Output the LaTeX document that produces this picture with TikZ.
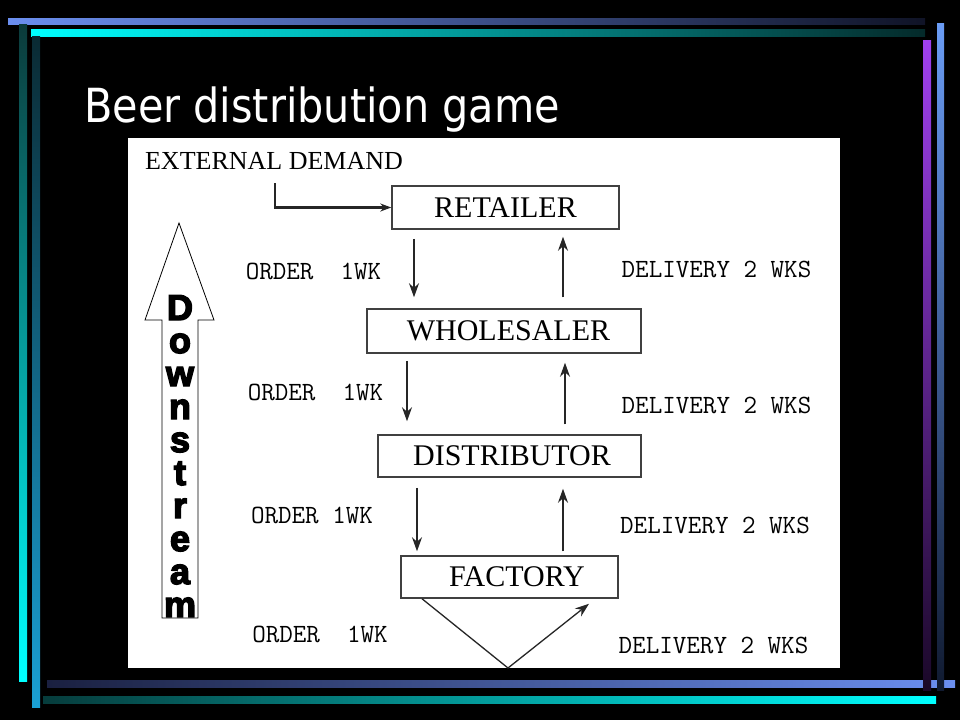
\documentclass[tikz,border=0pt]{standalone}
\usepackage{fontspec}
\setmainfont{Liberation Serif}
\newfontfamily\titlefont[FakeStretch=0.88]{DejaVu Sans}
\newfontfamily\monofont{Latin Modern Mono}
\newfontfamily\heavyfont[BoldFeatures={FakeBold=4}]{Liberation Sans}
\usetikzlibrary{arrows.meta,calc}
\definecolor{lblue}{HTML}{6B8FF0}
\definecolor{navyd}{HTML}{1A2040}
\definecolor{tealtop}{HTML}{0B3A3A}
\definecolor{tealdk}{HTML}{063C3C}
\definecolor{midblue}{HTML}{1AA0D4}
\definecolor{dkblue}{HTML}{0A2A33}
\definecolor{purp}{HTML}{A040F0}
\definecolor{purpdk}{HTML}{1A0828}
\definecolor{rblue}{HTML}{6A9CF5}
\definecolor{rbluedk}{HTML}{101A30}
\begin{document}
\begin{tikzpicture}[x=1pt,y=-1pt,
  boxnode/.style={draw=black!75, line width=1.5pt, inner sep=0pt, fill=white,
    font=\fontsize{30}{30}\selectfont},
  monolbl/.style={inner sep=0pt, font=\monofont\fontsize{26.3}{26.3}\selectfont},
  seriflbl/.style={inner sep=0pt, font=\fontsize{26}{26}\selectfont},
  flowarr/.style={line width=1.3pt, black!85, -{Stealth[length=14pt,width=10pt]}},
  elbowarr/.style={line width=2.4pt, black!85, -{Stealth[length=11pt,width=8pt]}},
  dletter/.style={inner sep=0pt, anchor=base, font=\heavyfont\bfseries\fontsize{36}{36}\selectfont}
]
\useasboundingbox (0,0) rectangle (960,720);
\fill[black] (0,0) rectangle (960,720);
% frame bars
\shade[left color=lblue, right color=navyd!60!black] (8,18) rectangle (925,24);
\shade[left color=cyan, right color=tealdk!70!black] (31,29) rectangle (925,36);
\shade[top color=tealtop, bottom color=cyan] (19,24) rectangle (27,681);
\shade[top color=dkblue, bottom color=midblue] (32,36) rectangle (40,707);
\shade[left color=navyd, right color=lblue] (47,680) rectangle (955,687);
\shade[left color=tealdk, right color=cyan] (43,696) rectangle (936,703);
\shade[top color=purp, bottom color=purpdk] (923,40) rectangle (931,690);
\shade[top color=rblue, bottom color=rbluedk] (937,23) rectangle (944,690);
% title
\node[anchor=base west, text=white, inner sep=0pt, font=\titlefont\fontsize{47}{47}\selectfont] (title) at (84,122) {Beer distribution game};
% white panel
\fill[white] (128,138) rectangle (840,668);
% Downstream arrow
\draw[black, line width=0.8pt, fill=white] (179,223) -- (214,320) -- (198,320) -- (198,618) -- (162,618) -- (162,320) -- (145,320) -- cycle;
\foreach \ch [count=\i from 0] in {D,o,w,n,s,t,r,e,a,m}{
  \node[dletter] (dl\i) at (180,320+33*\i) {\ch};
}
% labels
\node[seriflbl] (ext) at (274,161) {EXTERNAL DEMAND};
% boxes
\node[boxnode, minimum width=227pt, minimum height=43pt] (ret) at (505.5,207.5) {RETAILER};
\node[boxnode, minimum width=274pt, minimum height=44pt] (whol) at (504,331) {\hspace*{9pt}WHOLESALER};
\node[boxnode, minimum width=263pt, minimum height=42pt] (dist) at (509.5,456) {\hspace*{5pt}DISTRIBUTOR};
\node[boxnode, minimum width=217pt, minimum height=42pt] (fact) at (509.5,577) {\hspace*{15pt}FACTORY};
% order / delivery labels
\node[monolbl] (o1) at (313.5,271) {ORDER\ \ 1WK};
\node[monolbl] (o2) at (315.5,392.5) {ORDER\ \ 1WK};
\node[monolbl] (o3) at (312,515) {ORDER 1WK};
\node[monolbl] (o4) at (320,634) {ORDER\ \ 1WK};
\node[monolbl] (d1) at (716.5,269) {DELIVERY 2 WKS};
\node[monolbl] (d2) at (716.5,405) {DELIVERY 2 WKS};
\node[monolbl] (d3) at (715,525.5) {DELIVERY 2 WKS};
\node[monolbl] (d4) at (713.5,645) {DELIVERY 2 WKS};
% connectors
\draw[elbowarr] ([xshift=1pt,yshift=-13.5pt]ext.south) |- (ret.west);
\draw[flowarr] ([xshift=-91.5pt,yshift=-9pt]ret.south) -- ([xshift=-90pt,yshift=11pt]whol.north);
\draw[flowarr] ([xshift=59pt,yshift=11pt]whol.north) -- ([xshift=57.5pt,yshift=-7pt]ret.south);
\draw[flowarr] ([xshift=-97pt,yshift=-7pt]whol.south) -- ([xshift=-102.5pt,yshift=13pt]dist.north);
\draw[flowarr] ([xshift=55.5pt,yshift=10pt]dist.north) -- ([xshift=61pt,yshift=-9pt]whol.south);
\draw[flowarr] ([xshift=-92.5pt,yshift=-10pt]dist.south) -- ([xshift=-92.5pt,yshift=4pt]fact.north);
\draw[flowarr] ([xshift=53.5pt,yshift=4pt]fact.north) -- ([xshift=53.5pt,yshift=-11pt]dist.south);
\coordinate (vb) at (508,668);
\draw[flowarr] ([xshift=-87.5pt]fact.south) -- (vb) -- ([xshift=79.5pt,yshift=-5pt]fact.south);
\end{tikzpicture}
\end{document}
